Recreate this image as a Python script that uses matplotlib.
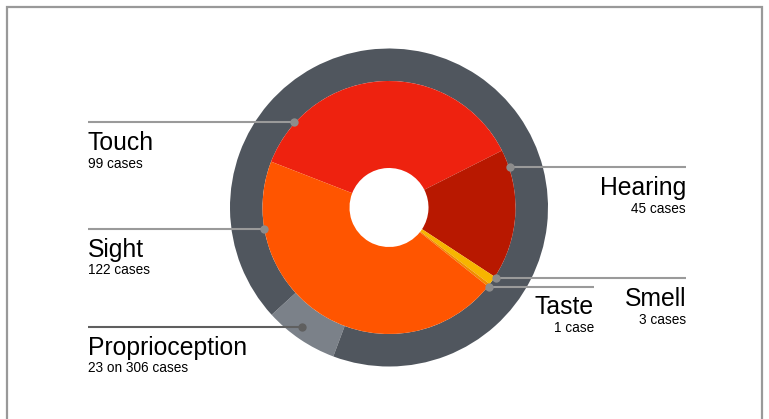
import matplotlib
matplotlib.use("Agg")
import matplotlib.pyplot as plt
from matplotlib.patches import Rectangle
import numpy as np

plt.rcParams['font.family'] = ['Liberation Sans', 'DejaVu Sans']

# inner pie: senses (clockwise from Touch)
senses = ['Touch', 'Hearing', 'Smell', 'Taste', 'Sight']
cases = [99, 45, 3, 1, 122]
sense_colors = ['#ee220f', '#b81800', '#f7b500', '#f08c00', '#ff5500']

# outer ring: proprioception vs the rest
prop_cases = 23
total_cases = 306
ring_values = [prop_cases, total_cases - prop_cases]
ring_colors = ['#7b8189', '#50565e']

sub_labels = {'Touch': '99 cases', 'Hearing': '45 cases', 'Smell': '3 cases',
              'Taste': '1 case', 'Sight': '122 cases',
              'Proprioception': '23 on 306 cases'}

W, H = 769, 419
fig = plt.figure(figsize=(W / 100, H / 100), dpi=100)
ax = fig.add_axes([0, 0, 1, 1])

cx, cy = 389, H - 207.5
r_out, r_in, r_hole = 159, 126.5, 39.5

ax.pie(ring_values, colors=ring_colors, startangle=249.5, counterclock=False,
       radius=r_out, center=(cx, cy), frame=True,
       wedgeprops=dict(width=r_out - r_in, linewidth=0))
ax.pie(cases, colors=sense_colors, startangle=158.75, counterclock=False,
       radius=r_in, center=(cx, cy), frame=True,
       wedgeprops=dict(width=r_in - r_hole, linewidth=0))
ax.set_xlim(0, W)
ax.set_ylim(0, H)
ax.set_aspect('equal')
ax.axis('off')

# label layout: (name, line y in px, side, dot radius, text x)
layout = [
    ('Touch', 122, 'left', 128, 88),
    ('Sight', 229, 'left', 127, 88),
    ('Proprioception', 327, 'left', 148, 88),
    ('Hearing', 167, 'right', 128, 686),
    ('Smell', 278, 'right', 128, 686),
    ('Taste', 287, 'right', 128, 594),
]
for name, ly, side, rd, tx in layout:
    y = H - ly
    dy = y - cy
    dx = np.sqrt(rd ** 2 - dy ** 2)
    px = cx - dx if side == 'left' else cx + dx
    lc = '#5f5f5f' if name == 'Proprioception' else '#9a9a9a'
    dc = '#5f5f5f' if name == 'Proprioception' else '#8c8c8c'
    ax.plot([tx, px], [y, y], color=lc, lw=1.5, solid_capstyle='butt', zorder=5)
    ax.plot(px, y, 'o', color=dc, ms=6, mec='none', zorder=6)
    ha = 'left' if side == 'left' else 'right'
    ax.text(tx, y - 27.5, name, fontsize=17.8, ha=ha, va='baseline', color='black')
    ax.text(tx, y - 45.5, sub_labels[name], fontsize=9.8, ha=ha, va='baseline',
            color='black')

# frame
ax.add_patch(Rectangle((7, -10), 755, H - 7 + 10, fill=False,
                       edgecolor='#999999', lw=1.6, zorder=10))

fig.savefig('out.png', dpi=100)
